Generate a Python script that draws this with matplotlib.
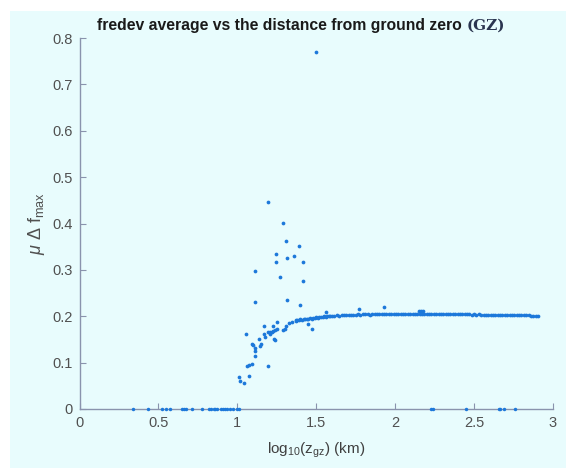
import matplotlib
matplotlib.use("Agg")
import matplotlib.pyplot as plt
from matplotlib.patches import Rectangle

plt.rcParams['font.family'] = ['Liberation Sans', 'DejaVu Sans']
plt.rcParams['mathtext.fontset'] = 'custom'
plt.rcParams['mathtext.rm'] = 'Liberation Sans'
plt.rcParams['mathtext.it'] = 'Liberation Sans:italic'
plt.rcParams['mathtext.bf'] = 'Liberation Sans:bold'

# ---- data ----
zero_x = [0.337, 0.437, 0.521, 0.549, 0.574, 0.648, 0.663, 0.675, 0.711, 0.775,
          0.821, 0.835, 0.850, 0.860, 0.870, 0.895, 0.910, 0.920, 0.933, 0.954,
          0.975, 0.997, 1.013, 2.230, 2.240, 2.449, 2.656, 2.667, 2.687, 2.757]
zero_y = [0.0] * len(zero_x)

scatter_x = [1.009, 1.016, 1.041, 1.060, 1.077, 1.092, 1.075, 1.052, 1.094, 1.102,
             1.113, 1.113, 1.115, 1.111, 1.111, 1.140, 1.151, 1.145, 1.174, 1.166,
             1.168, 1.193, 1.195, 1.225, 1.242, 1.246, 1.252, 1.269, 1.290, 1.309,
             1.314, 1.360, 1.390, 1.413, 1.419, 1.316, 1.396, 1.309, 1.305, 1.345,
             1.449, 1.470, 1.500, 1.559, 1.770, 1.927, 2.148, 2.162, 2.176,
             1.197, 1.210, 1.204, 1.221, 1.229, 1.238, 1.233, 1.240, 1.250, 1.290,
             1.330, 1.371]
scatter_y = [0.070, 0.060, 0.056, 0.093, 0.095, 0.096, 0.072, 0.161, 0.140, 0.138,
             0.131, 0.124, 0.114, 0.298, 0.231, 0.150, 0.140, 0.136, 0.156, 0.161,
             0.178, 0.446, 0.093, 0.180, 0.318, 0.334, 0.188, 0.285, 0.402, 0.363,
             0.325, 0.330, 0.351, 0.318, 0.275, 0.234, 0.224, 0.180, 0.172, 0.188,
             0.183, 0.173, 0.770, 0.210, 0.216, 0.219, 0.211, 0.211, 0.211,
             0.165, 0.167, 0.162, 0.165, 0.169, 0.171, 0.151, 0.149, 0.172, 0.170,
             0.186, 0.191]

curve_x = [1.37, 1.38, 1.39, 1.40, 1.41, 1.42, 1.43, 1.44, 1.45, 1.46,
           1.47, 1.48, 1.49, 1.50, 1.51, 1.52, 1.53, 1.54, 1.55, 1.56,
           1.57, 1.58, 1.59, 1.60, 1.615, 1.63, 1.645, 1.66, 1.675, 1.69,
           1.705, 1.72, 1.735, 1.75, 1.765, 1.78, 1.795, 1.81, 1.825, 1.84,
           1.855, 1.87, 1.885, 1.90, 1.915, 1.93, 1.945, 1.96, 1.975, 1.99,
           2.005, 2.02, 2.035, 2.05, 2.065, 2.08, 2.095, 2.11, 2.125, 2.14,
           2.155, 2.17, 2.185, 2.20, 2.215, 2.23, 2.245, 2.26, 2.275, 2.29,
           2.305, 2.32, 2.335, 2.35, 2.365, 2.38, 2.395, 2.41, 2.425, 2.44,
           2.455, 2.47, 2.485, 2.50, 2.515, 2.53, 2.545, 2.56, 2.575, 2.59,
           2.605, 2.62, 2.635, 2.65, 2.665, 2.68, 2.695, 2.71, 2.725, 2.74,
           2.755, 2.77, 2.785, 2.80, 2.815, 2.83, 2.845, 2.86, 2.875, 2.89, 2.905]
curve_y = [0.190, 0.192, 0.191, 0.193, 0.192, 0.194, 0.193, 0.195, 0.194, 0.196,
           0.195, 0.197, 0.196, 0.198, 0.197, 0.199, 0.198, 0.199, 0.200, 0.199,
           0.200, 0.201, 0.200, 0.201, 0.201, 0.202, 0.201, 0.202, 0.202, 0.203,
           0.202, 0.203, 0.203, 0.203, 0.204, 0.203, 0.204, 0.204, 0.204, 0.203,
           0.204, 0.204, 0.204, 0.204, 0.205, 0.204, 0.204, 0.205, 0.204, 0.204,
           0.205, 0.204, 0.204, 0.205, 0.204, 0.204, 0.204, 0.205, 0.204, 0.204,
           0.204, 0.204, 0.204, 0.204, 0.204, 0.204, 0.204, 0.204, 0.204, 0.204,
           0.204, 0.204, 0.204, 0.204, 0.204, 0.204, 0.204, 0.204, 0.204, 0.204,
           0.204, 0.204, 0.203, 0.204, 0.203, 0.204, 0.203, 0.203, 0.203, 0.203,
           0.203, 0.203, 0.203, 0.203, 0.203, 0.203, 0.203, 0.203, 0.202, 0.202,
           0.202, 0.202, 0.202, 0.202, 0.202, 0.202, 0.202, 0.201, 0.201, 0.201, 0.201]

xticks = [0, 0.5, 1, 1.5, 2, 2.5, 3]
xticklabels = ['0', '0.5', '1', '1.5', '2', '2.5', '3']
yticks = [0, 0.1, 0.2, 0.3, 0.4, 0.5, 0.6, 0.7, 0.8]
yticklabels = ['0', '0.1', '0.2', '0.3', '0.4', '0.5', '0.6', '0.7', '0.8']

# ---- figure ----
W, H = 566, 468
fig = plt.figure(figsize=(W / 100, H / 100), dpi=100, facecolor='white')
bg = '#e8fcfd'
fig.patches.append(Rectangle((10 / W, 0), 1 - 10 / W, 1 - 11 / H,
                             transform=fig.transFigure, facecolor=bg,
                             edgecolor='none', zorder=-10))

ax = fig.add_axes([79.5 / W, (H - 409) / H, (553 - 79.5) / W, (409 - 38) / H])
ax.set_zorder(1)
ax.patch.set_alpha(0)

mc = '#1c78da'
ax.plot(curve_x, curve_y, 'o', ms=2.7, color=mc, mec='none', clip_on=False)
ax.plot(scatter_x, scatter_y, 'o', ms=2.7, color=mc, mec='none', clip_on=False)
ax.plot(zero_x, zero_y, 'o', ms=2.5, color=mc, mec='none', clip_on=False, zorder=5)

ax.set_xlim(0, 3)
ax.set_ylim(0, 0.8)
ax.set_xticks(xticks)
ax.set_xticklabels(xticklabels)
ax.set_yticks(yticks)
ax.set_yticklabels(yticklabels)

spc = '#8a93ad'
for s in ['top', 'right']:
    ax.spines[s].set_visible(False)
for s in ['left', 'bottom']:
    ax.spines[s].set_color(spc)
    ax.spines[s].set_linewidth(1.0)
ax.tick_params(direction='in', length=4, width=0.8, color=spc,
               labelsize=10.5, labelcolor='#505050', pad=5)

ax.set_xlabel(r'$\mathrm{log}_{10}(\mathrm{z}_{\mathrm{gz}})$ (km)',
              fontsize=11, color='#404040', labelpad=8)
ax.set_ylabel(r'$\mu\ \Delta\ \mathrm{f}_{\mathrm{max}}$',
              fontsize=13, color='#505050', labelpad=4)

t1 = fig.text(97 / W, 1 - 30 / H, 'fredev average vs the distance from ground zero ',
              fontsize=11.3, fontweight='bold', color='#1a1a1a', va='baseline', ha='left')
fig.canvas.draw()
bb = t1.get_window_extent()
fig.text(bb.x1 / W, 1 - 30 / H, '(GZ)', fontsize=11, family='DejaVu Serif',
         fontweight='semibold', color='#2a3550', va='baseline', ha='left')

fig.savefig('out.png', dpi=100, facecolor='white')
